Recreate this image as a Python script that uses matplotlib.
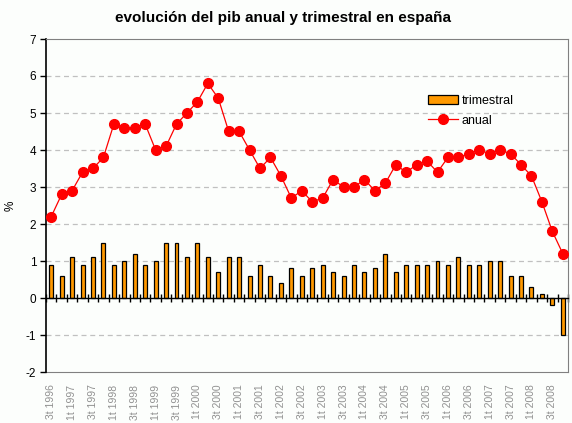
import numpy as np
import matplotlib
matplotlib.use("Agg")
import matplotlib.pyplot as plt

# trimestres 3t 1996 .. 4t 2008
quarters = []
for year in range(1996, 2009):
    for q in range(1, 5):
        if year == 1996 and q < 3:
            continue
        quarters.append(f"{q}t {year}")

trimestral = [0.9, 0.6, 1.1, 0.9, 1.1, 1.5, 0.9, 1.0, 1.2, 0.9,
              1.0, 1.5, 1.5, 1.1, 1.5, 1.1, 0.7, 1.1, 1.1, 0.6,
              0.9, 0.6, 0.4, 0.8, 0.6, 0.8, 0.9, 0.7, 0.6, 0.9,
              0.7, 0.8, 1.2, 0.7, 0.9, 0.9, 0.9, 1.0, 0.9, 1.1,
              0.9, 0.9, 1.0, 1.0, 0.6, 0.6, 0.3, 0.1, -0.2, -1.0]

anual = [2.2, 2.8, 2.9, 3.4, 3.5, 3.8, 4.7, 4.6, 4.6, 4.7,
         4.0, 4.1, 4.7, 5.0, 5.3, 5.8, 5.4, 4.5, 4.5, 4.0,
         3.5, 3.8, 3.3, 2.7, 2.9, 2.6, 2.7, 3.2, 3.0, 3.0,
         3.2, 2.9, 3.1, 3.6, 3.4, 3.6, 3.7, 3.4, 3.8, 3.8,
         3.9, 4.0, 3.9, 4.0, 3.9, 3.6, 3.3, 2.6, 1.8, 1.2]

y_ticks = list(range(-2, 8))

plt.rcParams['font.family'] = ['Liberation Sans', 'DejaVu Sans']
plt.rcParams['axes.unicode_minus'] = False

fig = plt.figure(figsize=(5.72, 4.23), dpi=100, facecolor='#fcfefc')
ax = fig.add_axes([46 / 572, 1 - 372 / 423, (568 - 46) / 572, (372 - 39) / 423])
ax.set_facecolor('#fcfefc')

x = np.arange(len(quarters))

for yv in y_ticks[1:-1]:
    if yv != 0:
        ax.axhline(yv, color='#c0c0c0', lw=0.9, ls=(0, (4, 3)), zorder=0)

bars = ax.bar(x, trimestral, width=0.38, color='#ff9900', edgecolor='black', lw=0.9,
              label='trimestral', zorder=2)
line, = ax.plot(x, anual, color='#ff0000', lw=0.9, marker='o', markersize=7,
                markeredgecolor='#ff0000', label='anual', zorder=3)

ax.set_xlim(-0.5, len(quarters) - 0.5)
ax.set_ylim(-2, 7)
ax.set_yticks(y_ticks)
ax.tick_params(axis='y', direction='out', length=4, width=1, labelsize=8.5, pad=3)

# eje de categorias en el cero
ax.spines['bottom'].set_position(('data', 0))
ax.spines['bottom'].set_color('black')
ax.spines['bottom'].set_linewidth(1)
ax.set_xticks(np.arange(-0.5, len(quarters), 1))
ax.tick_params(axis='x', direction='inout', length=6, width=1, labelbottom=False)
ax.spines['left'].set_linewidth(1.2)
ax.spines['top'].set_color('#808080')
ax.spines['right'].set_color('#808080')

# etiquetas abajo
sec = ax.secondary_xaxis('bottom')
sec.set_xticks(x[::2])
sec.set_xticklabels(quarters[::2], rotation=90, color='#909090', fontsize=7.5)
sec.tick_params(length=0, pad=9)
sec.spines['bottom'].set_color('#808080')

ax.set_ylabel('%', fontsize=8.5)
ax.yaxis.set_label_coords(-0.056, 0.5)

leg = ax.legend([bars, line], ['trimestral', 'anual'],
                loc='upper left', bbox_to_anchor=(0.72, 0.85), frameon=False,
                fontsize=9, handlelength=2.4, handletextpad=0.3,
                labelspacing=0.6, borderpad=0)

fig.text(0.494, 0.957, 'evolución del pib anual y trimestral en españa',
         ha='center', va='center', fontsize=11, fontweight='bold')

fig.savefig('out.png', dpi=100, facecolor=fig.get_facecolor())
